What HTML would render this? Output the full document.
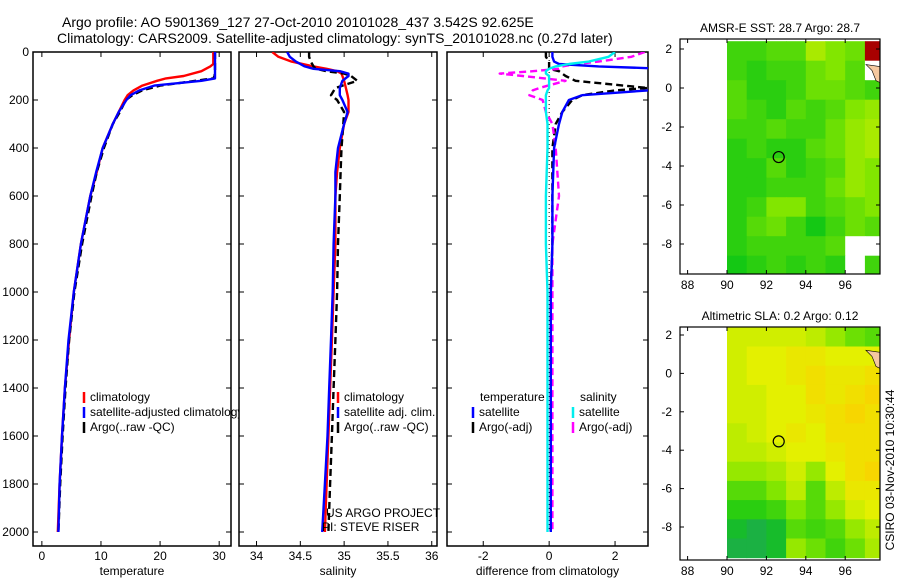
<!DOCTYPE html>
<html><head><meta charset="utf-8"><style>
body{margin:0;background:#fff;}
svg{display:block;font-family:"Liberation Sans",sans-serif;}
</style></head><body>
<svg id="c" width="900" height="580" xmlns="http://www.w3.org/2000/svg">
<text x="62" y="27" font-size="14">Argo profile: AO 5901369_127 27-Oct-2010 20101028_437 3.542S 92.625E</text>
<text x="57" y="43" font-size="14">Climatology: CARS2009. Satellite-adjusted climatology: synTS_20101028.nc (0.27d later)</text>
<text transform="translate(894,470) rotate(-90)" font-size="12" text-anchor="middle">CSIRO 03-Nov-2010 10:30:44</text>
</svg>
<script>
// ---------- profile data ----------
const tDep=[0,50,60,80,100,110,120,140,160,180,200,250,300,400,500,600,800,1000,1200,1400,1600,1800,2000];
const tClim=[29,29,28.5,27,24,21,19.5,17,15.5,14.5,14,13,12,10.3,9.3,8.2,6.6,5.4,4.6,3.9,3.4,3.0,2.7];
const tSat=[29.3,29.3,29.3,29.3,29.3,29.3,27,19,16.5,15,14.3,13,12,10.3,9.2,8.2,6.6,5.4,4.5,3.9,3.4,3.0,2.8];
const tArgo=[29.3,29.3,29.3,29.3,29.2,29,26,20,17,15.3,14.2,13.2,12,10.5,9.3,8.4,6.8,5.5,4.6,4.0,3.5,3.1,2.8];
const sDep=[0,20,40,60,70,80,90,100,120,150,180,200,250,300,400,500,600,800,1000,1200,1400,1600,1800,2000];
const sClim=[34.18,34.25,34.4,34.65,34.8,34.92,34.97,34.98,35.0,35.02,35.04,35.05,35.05,35.0,34.95,34.92,34.9,34.9,34.88,34.86,34.84,34.82,34.8,34.78];
const sSat=[34.35,34.38,34.45,34.55,34.65,34.95,35.05,35.05,34.98,34.95,34.95,34.98,35.04,35.0,34.93,34.9,34.9,34.88,34.87,34.85,34.83,34.81,34.78,34.75];
const sArgo=[34.6,34.6,34.62,34.65,34.68,34.8,35.0,35.08,35.15,34.9,34.85,34.92,35.0,34.99,34.97,34.96,34.95,34.93,34.92,34.9,34.88,34.86,34.84,34.82];
const dDep=[0,20,40,50,60,70,80,90,100,120,150,160,180,200,250,300,400,600,800,1000,1400,2000];
const dTsat=[0.1,0.1,0.15,0.3,1.5,3.5,4,4,4,4,3.5,3,1.0,0.6,0.4,0.3,0.15,0.1,0.1,0.05,0.05,0.05];
const dTargo=[-0.1,-0.1,0,0,0,0,0.3,0.4,0.5,0.8,3,2,1.0,0.7,0.4,0.2,0.1,0.1,0.1,0.05,0.05,0.05];
const dSsat=[2.0,1.8,1.2,0.6,0.2,0,-0.1,-0.1,0,0,0,-0.05,-0.1,-0.1,-0.1,-0.05,-0.05,-0.1,-0.1,-0.05,-0.05,-0.05];
const dSargo=[2.9,2.5,1.5,0.8,0.4,0.3,-0.5,-1.5,-0.8,0.5,-0.3,-0.5,-0.6,-0.2,-0.1,0.1,0.2,0.3,0.1,0.1,0.1,0.1];
const depthTicks=[0,200,400,600,800,1000,1200,1400,1600,1800,2000];
const tTicks=[0,10,20,30];
const sTicks=[34,34.5,35,35.5,36];
const dTicks=[-2,0,2];
// ---------- map data (0=green,1=yellow,>1 orange, -1 no data, 2 land/red) ----------
const mapLons=[90,91,92,93,94,95,96,97];
const mapLats=[2.4,1.4,0.4,-0.6,-1.6,-2.6,-3.6,-4.6,-5.6,-6.6,-7.6,-8.6];
const sstGrid=[
[0.2,0.2,0.3,0.3,0.7,0.5,0.4,2],
[0.2,0.1,0.2,0.2,0.4,0.5,0.3,-1],
[0.3,0.1,0.1,0.2,0.4,0.4,0.3,0.2],
[0.3,0.2,0.1,0.3,0.2,0.3,0.5,0.6],
[0.2,0.2,0.3,0.2,0.2,0.4,0.6,0.7],
[0.1,0.2,0.1,0.1,0.3,0.4,0.6,0.7],
[0.1,0.1,0.3,0.1,0.2,0.3,0.6,0.5],
[0.1,0.1,0.2,0.2,0.2,0.4,0.6,0.5],
[0.1,0.2,0.5,0.5,0.2,0.3,0.4,0.5],
[0.1,0.3,0.4,0.2,0.0,0.2,0.4,0.3],
[0.1,0.2,0.2,0.2,0.2,0.3,-1,-1],
[0.0,0.1,0.2,0.1,0.2,0.1,-1,0.2]];
const slaGrid=[
[0.9,0.9,0.9,0.9,0.8,0.6,0.4,0.3],
[0.9,1.0,1.0,1.1,1.1,1.0,1.0,1.0],
[0.9,1.0,1.0,1.1,1.2,1.1,1.1,1.2],
[0.9,0.9,1.0,1.0,1.2,1.1,1.2,1.3],
[0.9,0.9,1.0,1.0,1.1,1.2,1.3,1.2],
[0.8,0.9,1.0,1.1,1.0,1.2,1.2,1.2],
[0.8,0.8,0.9,1.0,1.0,1.1,1.2,1.2],
[0.6,0.6,0.7,0.9,0.6,1.0,1.2,1.3],
[0.3,0.3,0.5,0.8,0.3,0.8,1.1,1.1],
[0.1,0.1,0.2,0.5,0.3,0.6,0.9,1.0],
[-0.1,-0.2,-0.1,0.3,0.2,0.3,0.6,0.8],
[-0.2,-0.2,-0.1,0.6,0.4,0.2,0.4,0.7]];
const lonTicks=[88,90,92,94,96];
const latTicks=[2,0,-2,-4,-6,-8];
const argoLon=92.625, argoLat=-3.542;

const NS="http://www.w3.org/2000/svg";
const svg=document.getElementById('c');
function el(tag,attrs,parent){const e=document.createElementNS(NS,tag);for(const k in attrs)e.setAttribute(k,attrs[k]);(parent||svg).appendChild(e);return e;}
const Y0=52,Y1=532,PB=546;
const yD=d=>Y0+(Y1-Y0)*d/2000;

function panel(name,x0,x1,xmin,xmax,ticks,label,showY){
  const xs=v=>x0+(x1-x0)*(v-xmin)/(xmax-xmin);
  const g=el('g',{});
  
  
  const cp=el('clipPath',{id:'clip-'+name},g);
  el('rect',{x:x0,y:Y0,width:x1-x0,height:PB-Y0},cp);
  const box=el('rect',{x:x0,y:Y0,width:x1-x0,height:PB-Y0,fill:'#fff',stroke:'#000','stroke-width':1.5},g);
  
  
  ticks.forEach(t=>{
    const x=xs(t);
    el('line',{x1:x,x2:x,y1:PB,y2:PB-5,stroke:'#000'},g);
    el('line',{x1:x,x2:x,y1:Y0,y2:Y0+5,stroke:'#000'},g);
    const tx=el('text',{x:x,y:PB+14,'font-size':12,'text-anchor':'middle'},g);
    tx.textContent=t;
    
    
  });
  depthTicks.forEach(d=>{
    el('line',{x1:x0,x2:x0+5,y1:yD(d),y2:yD(d),stroke:'#000'},g);
    el('line',{x1:x1,x2:x1-5,y1:yD(d),y2:yD(d),stroke:'#000'},g);
    if(showY){const tx=el('text',{x:x0-4,y:yD(d)+4,'font-size':12,'text-anchor':'end'},g);tx.textContent=d;
      
      }
  });
  const lb=el('text',{x:(x0+x1)/2,y:575,'font-size':12,'text-anchor':'middle'},g);
  lb.textContent=label;
  
  
  const lines=el('g',{'clip-path':'url(#clip-'+name+')'},g);
  return {xs,lines,g};
}
function series(p,dep,vals,color,dash,name){
  const pts=dep.map((d,i)=>p.xs(vals[i]).toFixed(1)+','+yD(d).toFixed(1)).join(' ');
  const a={points:pts,fill:'none',stroke:color,'stroke-width':2.4,'stroke-linejoin':'round'};
  if(dash)a['stroke-dasharray']=dash;
  const l=el('polyline',a,p.lines);
  
  
}
function legend(g,x,y,color,text,name){
  el('line',{x1:x,x2:x,y1:y-9,y2:y+2,stroke:color,'stroke-width':2.5},g);
  const t=el('text',{x:x+6,y:y,'font-size':12},g);t.textContent=text;
  
  
}
const p1=panel('temperature-panel',33,231,-1.5,32,tTicks,'temperature',true);
series(p1,tDep,tClim,'#f00',null,'temp-climatology-line');
series(p1,tDep,tArgo,'#000','7,4','temp-argo-line');
series(p1,tDep,tSat,'#00f',null,'temp-satellite-line');
legend(p1.g,84,401,'#f00','climatology','legend-climatology');
legend(p1.g,84,416,'#00f','satellite-adjusted climatology','legend-satellite');
legend(p1.g,84,431,'#000','Argo(..raw -QC)','legend-argo');

const p2=panel('salinity-panel',239,437,33.8,36.06,sTicks,'salinity',false);
series(p2,sDep,sClim,'#f00',null,'sal-climatology-line');
series(p2,sDep,sArgo,'#000','7,4','sal-argo-line');
series(p2,sDep,sSat,'#00f',null,'sal-satellite-line');
legend(p2.g,338,401,'#f00','climatology','legend-climatology');
legend(p2.g,338,416,'#00f','satellite adj. clim.','legend-satellite');
legend(p2.g,338,431,'#000','Argo(..raw -QC)','legend-argo');
const u1=el('text',{x:326,y:517,'font-size':12},p2.g);u1.textContent='US ARGO PROJECT';


const u2=el('text',{x:322,y:531,'font-size':12},p2.g);u2.textContent='PI: STEVE RISER';



const p3=panel('difference-panel',447,648,-3.1,3,dTicks,'difference from climatology',false);
el('line',{x1:p3.xs(0),x2:p3.xs(0),y1:Y0,y2:Y1,stroke:'#000','stroke-width':1,'stroke-dasharray':'1,3'},p3.lines);
series(p3,dDep,dTargo,'#000','7,4','diff-temp-argo-line');
series(p3,dDep,dSargo,'#f0f','7,4','diff-sal-argo-line');
series(p3,dDep,dTsat,'#00f',null,'diff-temp-satellite-line');
series(p3,dDep,dSsat,'#0ee',null,'diff-sal-satellite-line');
const lt=el('text',{x:480,y:401,'font-size':12},p3.g);lt.textContent='temperature';


const ls=el('text',{x:580,y:401,'font-size':12},p3.g);ls.textContent='salinity';


legend(p3.g,473,416,'#00f','satellite','legend-temp-satellite');
legend(p3.g,473,431,'#000','Argo(-adj)','legend-temp-argo');
legend(p3.g,573,416,'#0ee','satellite','legend-sal-satellite');
legend(p3.g,573,431,'#f0f','Argo(-adj)','legend-sal-argo');

// ---------- maps ----------
function ramp(v){
  if(v===-1)return '#fff';
  if(v===2)return '#a80000';
  const stops=[[-0.3,[30,165,90]],[0,[20,200,20]],[0.5,[130,230,0]],[1,[228,240,0]],[1.35,[250,210,0]]];
  v=Math.max(-0.3,Math.min(1.35,v));
  for(let i=0;i<stops.length-1;i++){const [a,ca]=stops[i],[b,cb]=stops[i+1];
    if(v<=b){const f=(v-a)/(b-a);return 'rgb('+ca.map((c,k)=>Math.round(c+(cb[k]-c)*f)).join(',')+')';}}
  return 'rgb(250,210,0)';
}
function map(name,title,grid,bx0,by0,by1,lat2,latm8){
  const bx1=880;
  const xs=lon=>727+19.7*(lon-90);
  const ys=lat=>lat2+(latm8-lat2)*(2-lat)/10;
  const g=el('g',{});
  
  
  const cp=el('clipPath',{id:'clip-'+name},g);
  el('rect',{x:bx0,y:by0,width:bx1-bx0,height:by1-by0},cp);
  el('rect',{x:bx0,y:by0,width:bx1-bx0,height:by1-by0,fill:'#fff'},g);
  const cells=el('g',{'clip-path':'url(#clip-'+name+')'},g);
  grid.forEach((row,r)=>row.forEach((v,c)=>{
    const x=xs(mapLons[c]),y=ys(mapLats[r]);
    const rc=el('rect',{x:x.toFixed(1),y:y.toFixed(1),width:20.2,height:(ys(mapLats[r]-1)-y+0.5).toFixed(1),fill:ramp(v)},cells);
    
    
  }));
  el('path',{d:'M'+(bx1-14)+' '+(ys(1.2))+' l6 6 l4 10 l4 2 l0 -16 z',fill:'#f5c8a0',stroke:'#000','stroke-width':0.6},cells);
  const ci=el('circle',{cx:xs(argoLon),cy:ys(argoLat),r:5.5,fill:'none',stroke:'#000','stroke-width':1.2},g);
  
  
  el('rect',{x:bx0,y:by0,width:bx1-bx0,height:by1-by0,fill:'none',stroke:'#000','stroke-width':1.2},g);
  lonTicks.forEach(t=>{const x=xs(t);
    el('line',{x1:x,x2:x,y1:by1,y2:by1-4,stroke:'#000'},g);
    el('line',{x1:x,x2:x,y1:by0,y2:by0+4,stroke:'#000'},g);
    const tx=el('text',{x:x,y:by1+15,'font-size':12,'text-anchor':'middle'},g);tx.textContent=t;
    
    });
  latTicks.forEach(t=>{const y=ys(t);
    el('line',{x1:bx0,x2:bx0+4,y1:y,y2:y,stroke:'#000'},g);
    el('line',{x1:bx1,x2:bx1-4,y1:y,y2:y,stroke:'#000'},g);
    const tx=el('text',{x:bx0-8,y:y+4,'font-size':12,'text-anchor':'end'},g);tx.textContent=t;
    
    });
  const tt=el('text',{x:(bx0+bx1)/2,y:by0-7,'font-size':12,'text-anchor':'middle'},g);tt.textContent=title;
  
  
}
map('sst-map','AMSR-E SST: 28.7 Argo: 28.7',sstGrid,680,39,274,49,244);
map('sla-map','Altimetric SLA: 0.2 Argo: 0.12',slaGrid,680,327,560,335,527);
</script>
</body></html>
